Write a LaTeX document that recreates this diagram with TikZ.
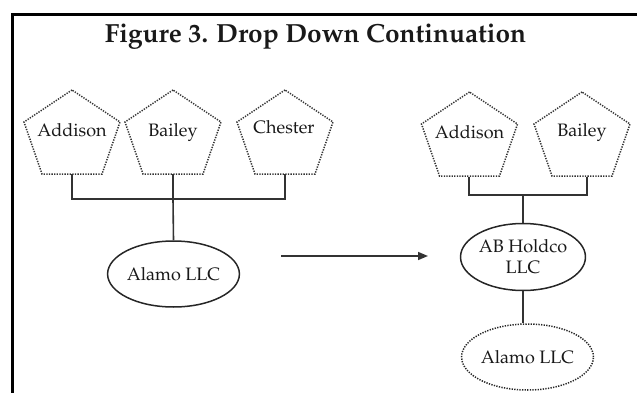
\documentclass[tikz,border=0pt]{standalone}
\usepackage[T1]{fontenc}
\renewcommand\rmdefault{ppl}
\usetikzlibrary{shapes.geometric,arrows.meta}
\newcommand\drawpent[3]{% name, cx, top
  \draw[pentline] (#2,#3) -- ++(-48,32) -- ++(18,52) -- ++(60,0) -- ++(18,-52) -- cycle;
  \coordinate (#1) at (#2,#3+84);
}
\tikzset{
  pentline/.style={draw=black!80, line width=1.5pt, dash pattern=on 1.3pt off 1.3pt},
  lbl/.style={font=\fontsize{18}{22}\selectfont, text=black!90, anchor=base, inner sep=0pt},
  ent/.style={ellipse, draw=black!85, line width=1.5pt, inner sep=0pt, font=\fontsize{18}{22}\selectfont, text=black!90, align=center},
  entdot/.style={ent, dash pattern=on 1.3pt off 1.3pt},
  conn/.style={draw=black!80, line width=1.6pt},
  frameline/.style={draw=black}
}
\begin{document}
\begin{tikzpicture}[x=1pt,y=-1pt]
\useasboundingbox (0,0) rectangle (637,393);
% frame
\draw[frameline, line width=2.5pt] (11,14.5) -- (637,14.5);
\draw[frameline, line width=3pt] (12.5,13.5) -- (12.5,393);
% title
\node[anchor=base, inner sep=0pt, font=\fontsize{26.2}{30}\selectfont\bfseries, text=black!90] (title) at (315.5,43) {Figure 3. Drop Down Continuation};
% left group
\drawpent{addLb}{72}{90}
\drawpent{baiLb}{173}{90}
\drawpent{cheLb}{285}{90}
\node[lbl] (addL) at (72,136) {Addison};
\node[lbl] (baiL) at (173,136) {Bailey};
\node[lbl] (cheL) at (284,134) {Chester};
\coordinate (barL) at (173,199);
\node[ent, minimum width=119pt, minimum height=66pt] (alamoL) at (173.5,274) {Alamo LLC};
\draw[conn] (addLb) |- (barL) -| (cheLb);
\draw[conn] (baiLb) -- (barL);
\draw[conn] (barL) -- (alamoL.north);
% arrow
\coordinate (arrS) at (281,256);
\coordinate (arrE) at (428,256);
\draw[conn, -{Triangle[length=10pt,width=8pt]}] (arrS) -- (arrE);
% right group
\drawpent{addRb}{469.5}{92}
\drawpent{baiRb}{582}{92}
\node[lbl] (addR) at (469.5,139) {Addison};
\node[lbl] (baiR) at (582,137) {Bailey};
\coordinate (addRc) at (469,177);
\coordinate (baiRc) at (587,177);
\coordinate (barR) at (523,195);
\node[ent, minimum width=120pt, minimum height=67pt] (ab) at (523,257) {AB Holdco\\[-1pt]LLC};
\node[entdot, minimum width=121pt, minimum height=66pt] (alamoR) at (527.5,357) {Alamo LLC};
\draw[conn] (addRc) |- (barR) -| (baiRc);
\draw[conn] (barR) -- (ab.north);
\draw[conn] (ab.south) -- (ab.south |- alamoR.north);
\end{tikzpicture}
\end{document}
